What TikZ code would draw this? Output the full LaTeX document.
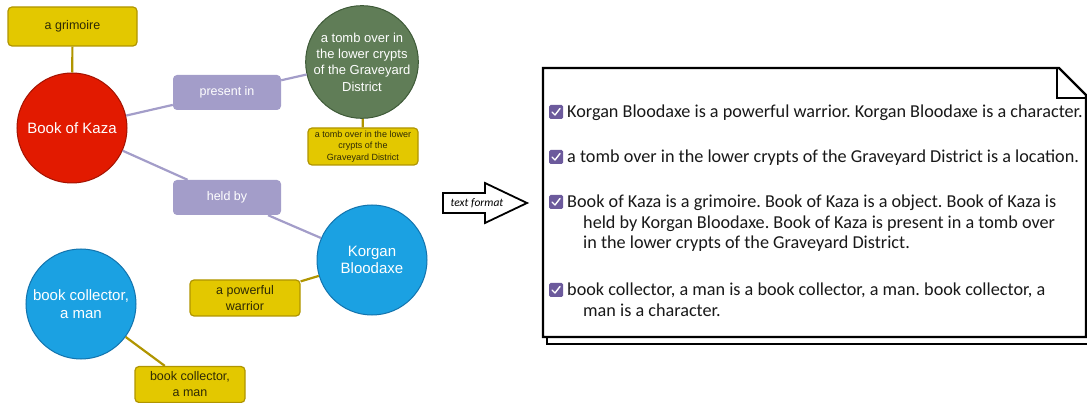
\documentclass[tikz,border=0pt]{standalone}
\usepackage{fontspec}
\setmainfont{Liberation Sans}
\newfontfamily\docfont{Carlito}
\definecolor{kred}{HTML}{E21A00}
\definecolor{kredd}{HTML}{A31200}
\definecolor{kgreen}{HTML}{607D57}
\definecolor{kgreend}{HTML}{3E5A38}
\definecolor{kblue}{HTML}{1BA1E2}
\definecolor{kblued}{HTML}{1273AD}
\definecolor{kyel}{HTML}{E3C800}
\definecolor{kyeld}{HTML}{B09500}
\definecolor{klav}{HTML}{A39DC9}
\definecolor{kchk}{HTML}{6C5A9C}
\definecolor{ktxt}{HTML}{2E2A05}
\begin{document}
\frenchspacing
\begin{tikzpicture}[x=1pt,y=-1pt,
  concept/.style={circle,minimum size=110pt,inner sep=0pt,line width=1pt,
    text=white,align=center,font=\fontsize{15}{17.5}\selectfont},
  attr/.style={rectangle,rounded corners=4pt,fill=kyel,draw=kyeld,line width=1.2pt,
    text=ktxt,align=center,minimum width=110pt,minimum height=36pt,inner sep=1pt,
    font=\fontsize{12.5}{16}\selectfont},
  rel/.style={rectangle,rounded corners=4pt,fill=klav,text=white,
    minimum width=108pt,minimum height=35pt,font=\fontsize{12.5}{15}\selectfont},
  reledge/.style={draw=klav,line width=2.2pt},
  attredge/.style={draw=kyeld,line width=2.2pt},
  docline/.style={anchor=base west,inner sep=0pt,text=black!90,
    font=\docfont\fontsize{18.2}{20.5}\selectfont},
  chkbox/.style={rectangle,rounded corners=1.5pt,fill=kchk,minimum size=14pt,inner sep=0pt}
]
\useasboundingbox (0,0) rectangle (1087,403);

% ---- concept map ----
\node[attr,minimum width=129pt,minimum height=39pt] (grim) at (72.5,26.5) {a grimoire};
\node[concept,fill=kred,draw=kredd] (kaza) at (72,128) {Book of Kaza};
\node[rel] (pres) at (227,92.5) {present in};
\node[rel] (held) at (227,197.5) {held by};
\node[concept,fill=kgreen,draw=kgreend,font=\fontsize{13}{16.3}\selectfont] (tomb) at (362,62)
  {a tomb over in\\the lower crypts\\of the Graveyard\\District};
\node[attr,minimum height=37pt,font=\fontsize{9}{11.5}\selectfont] (tombattr) at (363,146.5)
  {a tomb over in the lower\\crypts of the\\Graveyard District};
\node[concept,fill=kblue,draw=kblued] (korgan) at (372,260) {Korgan\\Bloodaxe};
\node[attr] (warrior) at (245,298) {a powerful\\warrior};
\node[concept,fill=kblue,draw=kblued] (coll) at (81,304) {book collector,\\a man};
\node[attr] (collattr) at (190,384.5) {book collector,\\a man};

\path[attredge] (grim) -- (kaza);
\path[reledge] (kaza) -- (pres);
\path[reledge] (pres) -- (tomb);
\path[reledge] (kaza) -- (held);
\path[reledge] (held) -- (korgan);
\path[attredge] (tomb) -- (tombattr);
\path[attredge] (warrior) -- (korgan);
\path[attredge] (coll) -- (collattr);

% ---- conversion arrow ----
\draw[line width=1.8pt,line join=miter,fill=white]
  (443,193) -- (485,193) -- (485,183) -- (527,203) -- (485,223) -- (485,213) -- (443,213) -- cycle;
\node[font=\docfont\itshape\fontsize{11.5}{13}\selectfont,inner sep=0pt] (fmt) at (477,203) {text format};

% ---- output document ----
\draw[line width=2pt] (547,337) -- (547,344) -- (1087,344);
\draw[line width=2.4pt,fill=white,line join=miter]
  (543,68) -- (1059,68) -- (1086,95) -- (1086,337) -- (543,337) -- cycle;
\draw[line width=1.4pt] (1057,69) -- (1057,98) -- (1087,98);
\draw[line width=0.6pt] (1061,70.5) -- (1087,96.5);

\foreach \n/\y in {1/112,2/157,3/202,4/290}{
  \node[chkbox] (cb\n) at (556,\y) {};
  \draw[white,line width=1.4pt,line cap=round,line join=round]
    ([shift={(-4,0)}]cb\n.center) -- ([shift={(-1,3)}]cb\n.center) -- ([shift={(4,-3.5)}]cb\n.center);
}
\node[docline] (p1) at (567,118)
  {Korgan Bloodaxe is a powerful warrior. Korgan Bloodaxe is a character.};
\node[docline] (p2) at (567,163)
  {a tomb over in the lower crypts of the Graveyard District is a location.};
\node[docline] (p3a) at (567,208)
  {Book of Kaza is a grimoire. Book of Kaza is a object. Book of Kaza is};
\node[docline] (p3b) at (583,228.5)
  {held by Korgan Bloodaxe. Book of Kaza is present in a tomb over};
\node[docline] (p3c) at (583,249)
  {in the lower crypts of the Graveyard District.};
\node[docline] (p4a) at (567,296)
  {book collector, a man is a book collector, a man. book collector, a};
\node[docline] (p4b) at (583,316.5)
  {man is a character.};
\end{tikzpicture}
\end{document}
